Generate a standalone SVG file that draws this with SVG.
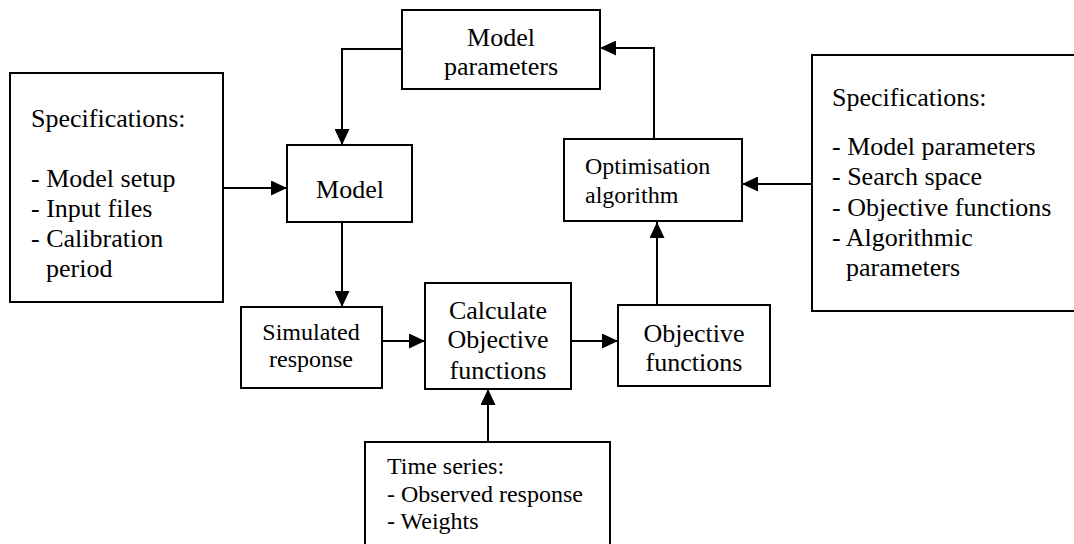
<svg xmlns="http://www.w3.org/2000/svg" width="1074" height="544" viewBox="0 0 1074 544">
  <defs>
    <marker id="arr" markerUnits="userSpaceOnUse" markerWidth="16" markerHeight="15" refX="16" refY="7.5" orient="auto">
      <path d="M0,0 L16,7.5 L0,15 Z" fill="#000"/>
    </marker>
    <style>
      .box { fill: #fff; stroke: #000; stroke-width: 2; }
      .ln { fill: none; stroke: #000; stroke-width: 2; marker-end: url(#arr); }
      .l { font-size: 26px; }
      .s { font-size: 24px; }
      .c { text-anchor: middle; }
    </style>
  </defs>
  <rect width="1074" height="544" fill="#fff"/>

  <g id="connectors">
    <polyline class="ln" points="223,188 287,188"/>
    <polyline class="ln" points="402,49 342,49 342,145"/>
    <polyline class="ln" points="342,222 342,307"/>
    <polyline class="ln" points="382,341 425,341"/>
    <polyline class="ln" points="571,341 618,341"/>
    <polyline class="ln" points="488,442 488,389"/>
    <polyline class="ln" points="657,305 657,222"/>
    <polyline class="ln" points="654,139 654,48 600,48"/>
    <polyline class="ln" points="812,184 742,184"/>
  </g>

  <g font-family="'Liberation Serif', 'DejaVu Serif', serif" fill="#000">
  <g id="spec-left">
    <rect class="box" x="10" y="73" width="213" height="229"/>
    <text class="l" x="31" y="127">Specifications:</text>
    <text class="l" x="31" y="187">- Model setup</text>
    <text class="l" x="31" y="217">- Input files</text>
    <text class="l" x="31" y="247">- Calibration</text>
    <text class="l" x="46" y="277">period</text>
  </g>

  <g id="model-parameters">
    <rect class="box" x="402" y="10" width="198" height="79"/>
    <text class="l c" x="501" y="46">Model</text>
    <text class="l c" x="501" y="75">parameters</text>
  </g>

  <g id="model">
    <rect class="box" x="287" y="145" width="125" height="77"/>
    <text class="l c" x="350" y="198">Model</text>
  </g>

  <g id="optimisation">
    <rect class="box" x="564" y="139" width="178" height="82"/>
    <text class="s" x="585" y="174">Optimisation</text>
    <text class="s" x="585" y="203">algorithm</text>
  </g>

  <g id="spec-right">
    <rect class="box" x="812" y="55" width="266" height="256"/>
    <text class="l" x="832" y="106">Specifications:</text>
    <text class="l" x="832" y="155">- Model parameters</text>
    <text class="l" x="832" y="185">- Search space</text>
    <text class="l" x="832" y="216">- Objective functions</text>
    <text class="l" x="832" y="246">- Algorithmic</text>
    <text class="l" x="846" y="276">parameters</text>
  </g>

  <g id="simulated-response">
    <rect class="box" x="241" y="307" width="141" height="81"/>
    <text class="s c" x="311" y="340">Simulated</text>
    <text class="s c" x="311" y="367">response</text>
  </g>

  <g id="calculate">
    <rect class="box" x="425" y="283" width="146" height="106"/>
    <text class="l c" x="498" y="319">Calculate</text>
    <text class="l c" x="498" y="348">Objective</text>
    <text class="l c" x="498" y="379">functions</text>
  </g>

  <g id="objective-functions">
    <rect class="box" x="618" y="305" width="152" height="81"/>
    <text class="l c" x="694" y="342">Objective</text>
    <text class="l c" x="694" y="371">functions</text>
  </g>

  <g id="time-series">
    <rect class="box" x="365" y="442" width="245" height="110"/>
    <text class="s" x="387" y="474">Time series:</text>
    <text class="s" x="387" y="502">- Observed response</text>
    <text class="s" x="387" y="529">- Weights</text>
  </g>
  </g>
</svg>
